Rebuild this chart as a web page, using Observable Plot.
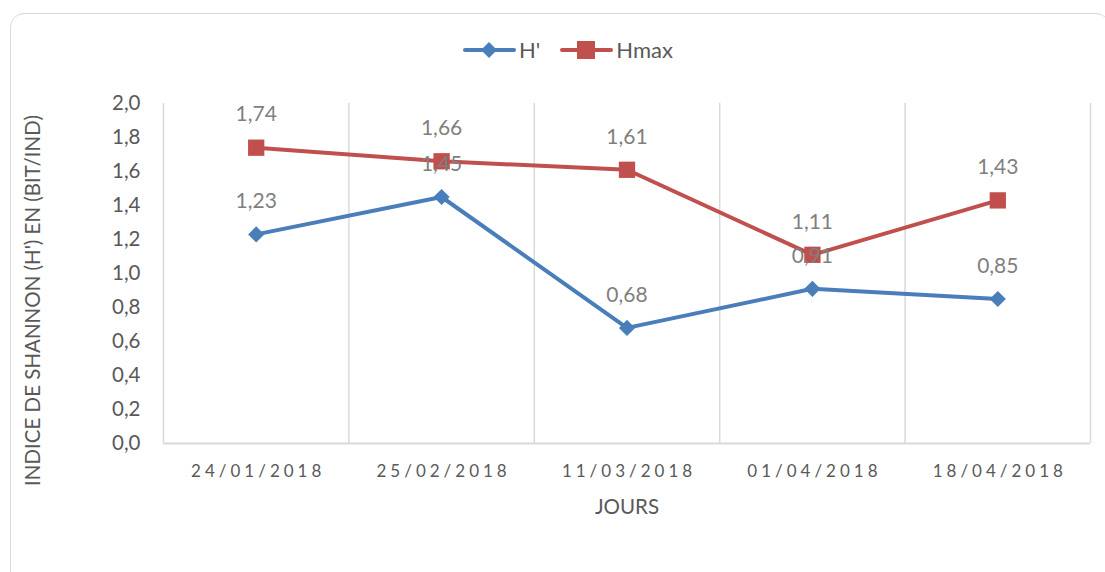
<!DOCTYPE html>
<html>
<head>
<meta charset="utf-8">
<script src="https://cdn.jsdelivr.net/npm/d3@7"></script>
<script src="https://cdn.jsdelivr.net/npm/@observablehq/plot@0.6"></script>
<style>
  html, body { margin: 0; padding: 0; background: #fff; }
  #wrap { position: relative; width: 1105px; height: 572px; overflow: hidden; font-family: Lato, "Open Sans", sans-serif; }
  #frame { position: absolute; left: 10px; top: 13px; width: 1100px; height: 620px; border: 1.5px solid #d9d9d9; border-radius: 14px; box-sizing: border-box; }
  #chart { position: absolute; left: 0; top: 0; }
  #legend { position: absolute; top: 36px; left: 463px; display: flex; gap: 20px; font-size: 22px; color: #595959; }
  .item { display: flex; align-items: center; gap: 3px; }
  #chart svg [aria-label="x-axis tick label"] text { letter-spacing: 4px; }
</style>
</head>
<body>
<div id="wrap">
  <div id="frame"></div>
  <div id="chart"></div>
  <div id="legend"></div>
</div>
<script>
// ---- data ----
const dates = ["24/01/2018", "25/02/2018", "11/03/2018", "01/04/2018", "18/04/2018"];
const hPrime = [1.23, 1.45, 0.68, 0.91, 0.85];
const hMax = [1.74, 1.66, 1.61, 1.11, 1.43];
const seriesNames = ["H'", "Hmax"];
const yTicks = [0, 0.2, 0.4, 0.6, 0.8, 1.0, 1.2, 1.4, 1.6, 1.8, 2.0];
const gridX = [-0.5, 0.5, 1.5, 2.5, 3.5, 4.5];

const colors = {"H'": "#4a7ebb", "Hmax": "#c0504d"};
const comma = (v, d) => v.toFixed(d).replace(".", ",");

const rows = [];
dates.forEach((d, i) => {
  rows.push({i, date: d, series: "H'", value: hPrime[i]});
  rows.push({i, date: d, series: "Hmax", value: hMax[i]});
});
const rowsH = rows.filter(r => r.series === "H'");
const rowsM = rows.filter(r => r.series === "Hmax");

const chart = Plot.plot({
  width: 1105,
  height: 572,
  marginLeft: 163,
  marginRight: 15,
  marginTop: 103,
  marginBottom: 129,
  style: {fontFamily: "Lato, 'Open Sans', sans-serif", background: "transparent", overflow: "visible"},
  x: {domain: [-0.5, dates.length - 0.5]},
  y: {domain: [0, 2]},
  marks: [
    Plot.ruleX(gridX, {y1: 0, y2: 2, stroke: "#d9d9d9", strokeWidth: 1.5}),
    Plot.ruleY([0], {stroke: "#d9d9d9", strokeWidth: 2}),
    Plot.axisY({ticks: yTicks, tickSize: 0, tickPadding: 23, fontSize: 20.5, fill: "#595959", tickFormat: v => comma(v, 1), label: null}),
    Plot.axisX({ticks: dates.map((d, i) => i), tickSize: 0, tickPadding: 21, dx: 2, fontSize: 17, fill: "#595959", tickFormat: i => dates[i], label: null}),
    Plot.text(["JOURS"], {frameAnchor: "bottom", dy: 70, fontSize: 20.5, fill: "#595959"}),
    Plot.text(["INDICE DE SHANNON (H') EN (BIT/IND)"], {frameAnchor: "left", textAnchor: "middle", rotate: -90, dx: -130, dy: 27, fontSize: 20.5, fill: "#595959"}),
    Plot.line(rowsH, {x: "i", y: "value", stroke: colors["H'"], strokeWidth: 4}),
    Plot.line(rowsM, {x: "i", y: "value", stroke: colors["Hmax"], strokeWidth: 4}),
    Plot.dot(rowsH, {x: "i", y: "value", symbol: "diamond2", r: 7.3, fill: colors["H'"], stroke: "none"}),
    Plot.dot(rowsM, {x: "i", y: "value", symbol: "square", r: 9.2, fill: colors["Hmax"], stroke: "none"}),
    Plot.text(rows, {x: "i", y: "value", text: d => comma(d.value, 2), dy: -33, fontSize: 21, fill: "#7f7f7f"})
  ]
});
document.getElementById("chart").appendChild(chart);

// legend
const legend = document.getElementById("legend");
seriesNames.forEach(name => {
  const c = colors[name];
  const marker = name === "H'"
    ? `<polygon points="26,2 34,10 26,18 18,10" fill="${c}"/>`
    : `<rect x="17" y="1" width="18" height="18" fill="${c}"/>`;
  const it = document.createElement("div");
  it.className = "item";
  it.innerHTML = `<svg width="53" height="20"><line x1="2" y1="10" x2="51" y2="10" stroke="${c}" stroke-width="4" stroke-linecap="round"/>${marker}</svg><span>${name}</span>`;
  legend.appendChild(it);
});
</script>
</body>
</html>
